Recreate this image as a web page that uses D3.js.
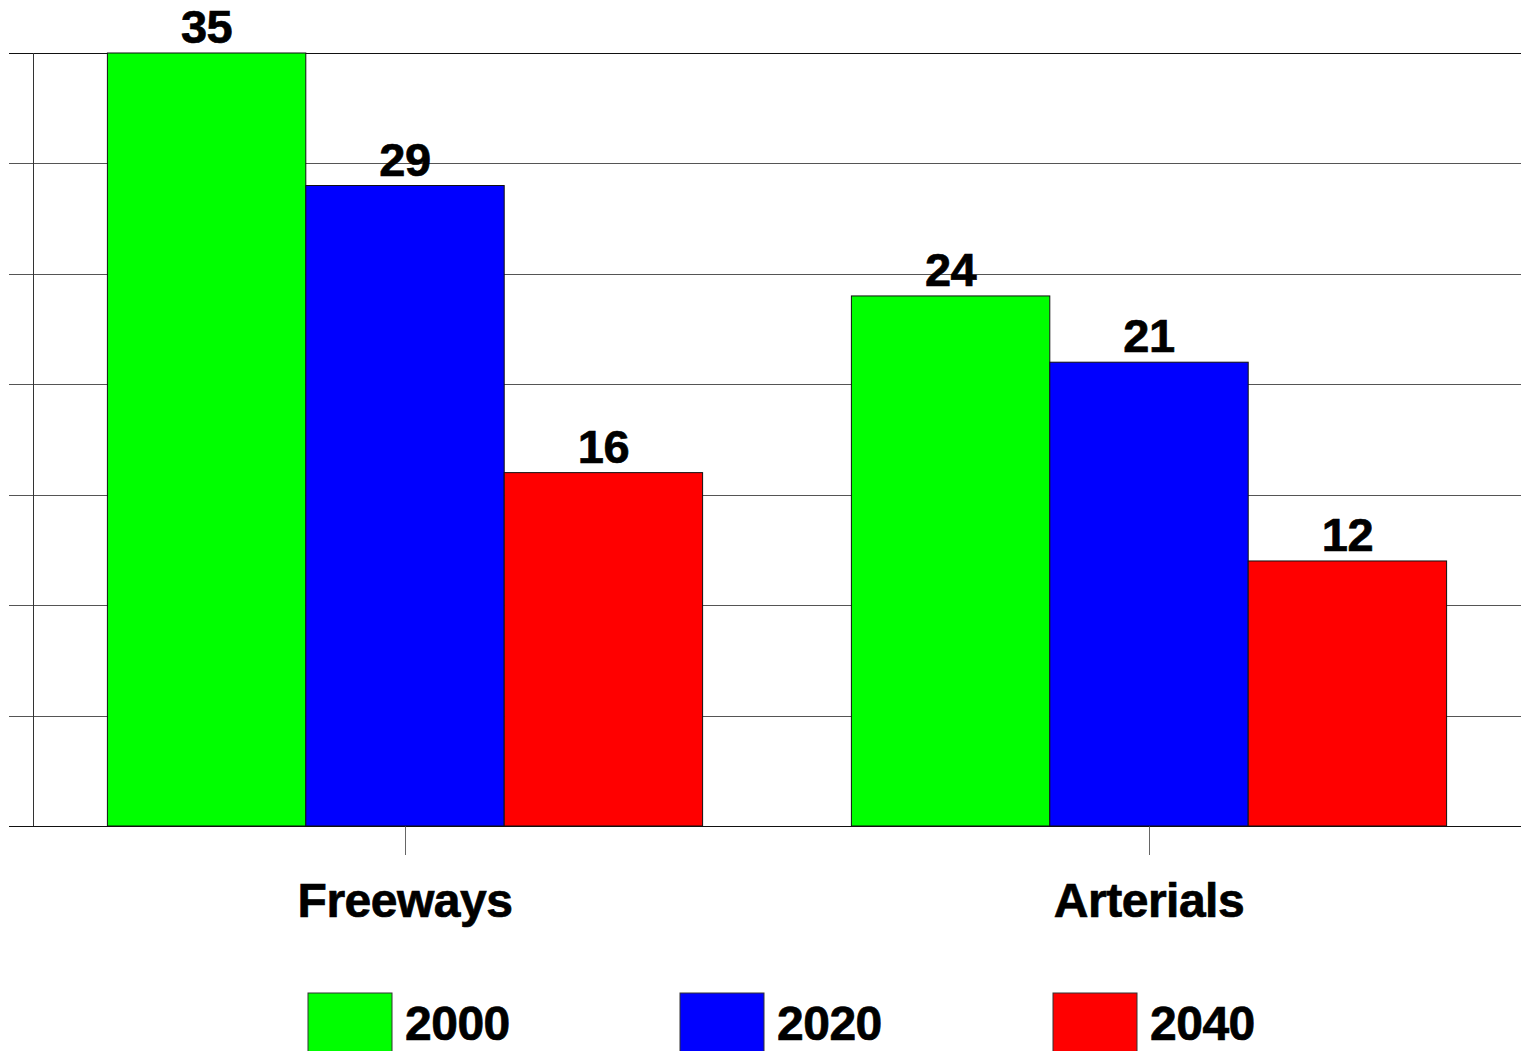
<!DOCTYPE html>
<html>
<head>
<meta charset="utf-8">
<script src="https://d3js.org/d3.v7.min.js"></script>
<style>
  body { margin: 0; background: #fff; }
  text { font-family: "Liberation Sans", Arial, sans-serif; font-weight: bold; fill: #000; stroke: #000; stroke-width: 0.7px; letter-spacing: -0.5px; }
</style>
</head>
<body>
<script>
var categories = ["Freeways", "Arterials"];
var years = ["2000", "2020", "2040"];
var v2000 = [35, 24];
var v2020 = [29, 21];
var v2040 = [16, 12];
var yTicks = [0, 5, 10, 15, 20, 25, 30, 35];
var colors = ["#00ff00", "#0000ff", "#ff0000"];

var width = 1526,
    height = 1051;
var plotLeft = 33, plotRight = 1521, plotTop = 53, plotBottom = 826;

var svg = d3.select("body").append("svg")
    .attr("width", width)
    .attr("height", height);

var series = [v2000, v2020, v2040];
var rows = categories.map(function (c, i) {
    return { cat: c, vals: years.map(function (yr, j) { return { year: yr, value: series[j][i], idx: j }; }) };
});

var x0 = d3.scaleBand().domain(categories).range([plotLeft, plotRight]).paddingInner(0.2).paddingOuter(0.1);
var x1 = d3.scaleBand().domain(years).range([0, x0.bandwidth()]);
var y = d3.scaleLinear().domain([0, 35]).range([plotBottom, plotTop]);

// gridlines + left ticks
var yAxis = svg.append("g")
    .attr("transform", "translate(" + plotLeft + ",0)")
    .call(d3.axisLeft(y).tickValues(yTicks).tickSize(-(plotRight - plotLeft)).tickFormat(""));
yAxis.select(".domain").remove();
yAxis.selectAll(".tick line")
    .attr("x1", -24)
    .attr("stroke", function (d) { return (d === 0 || d === 35) ? "#111" : "#555"; })
    .attr("shape-rendering", "crispEdges");

svg.append("line")
    .attr("x1", plotLeft).attr("x2", plotLeft)
    .attr("y1", plotTop).attr("y2", plotBottom)
    .attr("stroke", "#333")
    .attr("shape-rendering", "crispEdges");

// category ticks
svg.selectAll(".cat-tick")
    .data(categories)
    .enter().append("line")
    .attr("class", "cat-tick")
    .attr("x1", function (d) { return Math.round(x0(d) + x0.bandwidth() / 2) + 0.5; })
    .attr("x2", function (d) { return Math.round(x0(d) + x0.bandwidth() / 2) + 0.5; })
    .attr("y1", plotBottom).attr("y2", plotBottom + 29)
    .attr("stroke", "#666");

var group = svg.selectAll(".group")
    .data(rows)
    .enter().append("g")
    .attr("class", "group")
    .attr("transform", function (d) { return "translate(" + x0(d.cat) + ",0)"; });

group.selectAll("rect")
    .data(function (d) { return d.vals; })
    .enter().append("rect")
    .attr("x", function (d) { return x1(d.year); })
    .attr("y", function (d) { return y(d.value); })
    .attr("width", x1.bandwidth())
    .attr("height", function (d) { return plotBottom - y(d.value); })
    .attr("fill", function (d) { return colors[d.idx]; })
    .attr("stroke", "#111")
    .attr("stroke-width", 1);

group.selectAll(".val")
    .data(function (d) { return d.vals; })
    .enter().append("text")
    .attr("class", "val")
    .attr("x", function (d) { return x1(d.year) + x1.bandwidth() / 2; })
    .attr("y", function (d) { return y(d.value) - 10; })
    .attr("text-anchor", "middle")
    .style("font-size", "47px")
    .text(function (d) { return d.value; });

svg.selectAll(".cat-label")
    .data(categories)
    .enter().append("text")
    .attr("class", "cat-label")
    .attr("x", function (d) { return x0(d) + x0.bandwidth() / 2; })
    .attr("y", 917)
    .attr("text-anchor", "middle")
    .style("font-size", "48px")
    .text(function (d) { return d; });

// legend
var legendX = [308, 680, 1053];
var legend = svg.selectAll(".legend")
    .data(years)
    .enter().append("g")
    .attr("class", "legend")
    .attr("transform", function (d, i) { return "translate(" + legendX[i] + ",993)"; });

legend.append("rect")
    .attr("width", 84)
    .attr("height", 62)
    .attr("fill", function (d, i) { return colors[i]; })
    .attr("stroke", "#333");

legend.append("text")
    .attr("x", 97)
    .attr("y", 47)
    .style("font-size", "48px")
    .text(function (d) { return d; });
</script>
</body>
</html>
